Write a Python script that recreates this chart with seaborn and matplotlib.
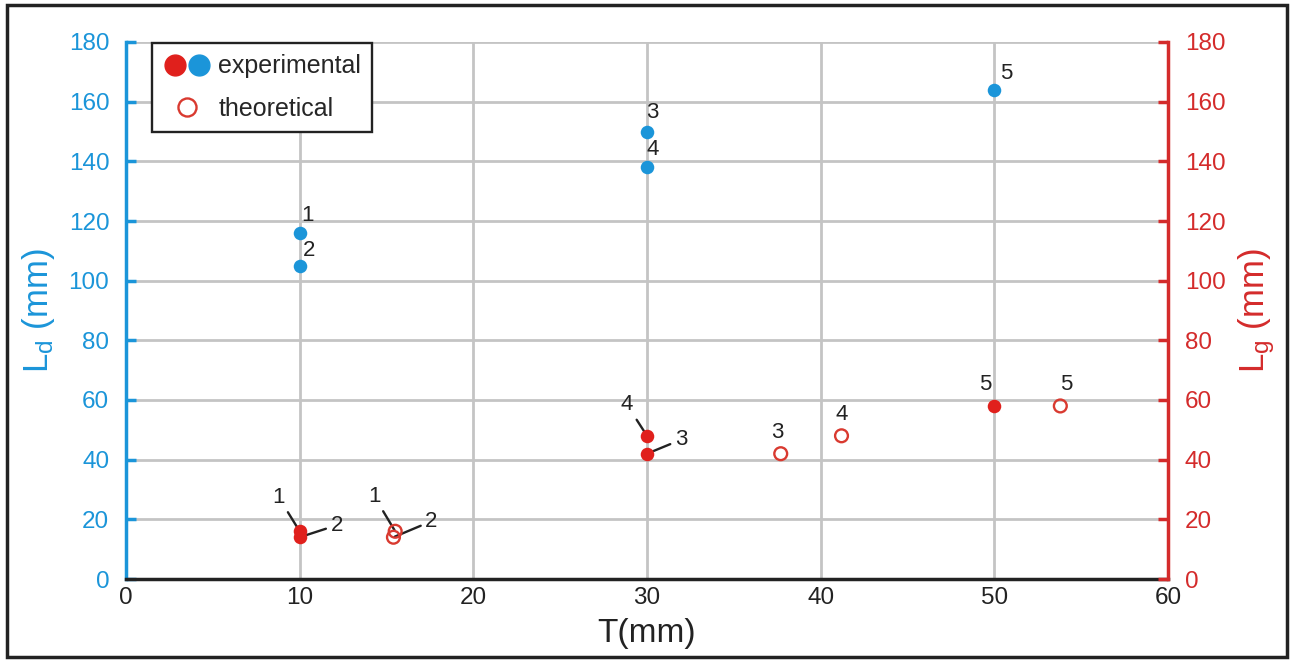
import matplotlib
matplotlib.use("Agg")
import matplotlib.pyplot as plt
import seaborn as sns
from matplotlib.lines import Line2D
from matplotlib.legend_handler import HandlerTuple
from matplotlib.patches import Rectangle

# ---- data ----
exp_T = [10, 10, 30, 30, 50]
exp_Ld = [116, 105, 150, 138, 164]
exp_Lg = [16, 14, 42, 48, 58]
theo_T = [15.5, 15.4, 37.7, 41.2, 53.8]
theo_Lg = [16, 14, 42, 48, 58]
point_labels = ["1", "2", "3", "4", "5"]

x_ticks = [0, 10, 20, 30, 40, 50, 60]
y_ticks = [0, 20, 40, 60, 80, 100, 120, 140, 160, 180]

BLUE = "#1b95d9"
RED = "#e0201c"
RED_AX = "#d42b2b"
RED_OPEN = "#d93a30"
GRID = "#c4c4c4"

sns.set_style("white")
plt.rcParams["font.family"] = ["Liberation Sans", "DejaVu Sans"]
plt.rcParams["mathtext.fontset"] = "custom"
plt.rcParams["mathtext.rm"] = "Liberation Sans"
plt.rcParams["mathtext.it"] = "Liberation Sans"

W, H = 1292, 660
fig = plt.figure(figsize=(W / 100, H / 100), dpi=100)
ax = fig.add_axes([126 / W, 1 - 579 / H, (1168 - 126) / W, (579 - 42) / H])
ax2 = ax.twinx()

ax.set_xlim(0, 60)
ax.set_ylim(0, 180)
ax2.set_ylim(0, 180)
ax.set_xticks(x_ticks)
ax.set_yticks(y_ticks)
ax2.set_yticks(y_ticks)

ax.grid(True, color=GRID, linewidth=2)
ax.set_axisbelow(True)
ax2.grid(False)

# spines
for a in (ax, ax2):
    a.spines["top"].set_visible(False)
ax.spines["left"].set_color(BLUE)
ax.spines["left"].set_linewidth(2.5)
ax.spines["bottom"].set_color("#222222")
ax.spines["bottom"].set_linewidth(2.5)
ax.spines["right"].set_visible(False)
ax2.spines["left"].set_visible(False)
ax2.spines["bottom"].set_visible(False)
ax2.spines["right"].set_color(RED_AX)
ax2.spines["right"].set_linewidth(2.5)

ax.tick_params(axis="y", direction="in", length=7, width=2.5, colors=BLUE, labelsize=17.5, pad=12)
ax.tick_params(axis="x", direction="in", length=7, width=2.5, colors="#222222", labelsize=17.5, pad=6)
ax2.tick_params(axis="y", direction="in", length=7, width=2.5, colors=RED_AX, labelsize=17.5, pad=12)

ax.set_xlabel("T(mm)", fontsize=24, color="#222222", labelpad=6)
ax.set_ylabel(r"L$_\mathregular{d}$ (mm)", fontsize=25, color=BLUE, labelpad=8)
ax2.set_ylabel(r"L$_\mathregular{g}$ (mm)", fontsize=25, color=RED_AX, labelpad=8, rotation=90)

# points
sns.scatterplot(x=exp_T, y=exp_Ld, ax=ax, color=BLUE, s=95, linewidth=0, zorder=5)
sns.scatterplot(x=exp_T, y=exp_Lg, ax=ax2, color=RED, s=95, linewidth=0, zorder=5)
sns.scatterplot(x=theo_T, y=theo_Lg, ax=ax2, facecolors="none", edgecolors=RED_OPEN,
                s=85, linewidth=1.7, zorder=5)

# annotations
txt_kw = dict(textcoords="offset pixels", fontsize=16, color="#222222", ha="center", va="center")
line_kw = dict(arrowstyle="-", color="#222222", lw=1.7, shrinkA=1, shrinkB=1)

blue_off = [(8, 17), (9, 15), (5, 19), (6, 18), (12, 16)]
for x, y, lab, off in zip(exp_T, exp_Ld, point_labels, blue_off):
    ax.annotate(lab, (x, y), xytext=off, **txt_kw)

red_off = [(-21, 34), (37, 12), (34, 14), (-20, 31), (-9, 21)]
red_line = [True, True, True, True, False]
for x, y, lab, off, ln in zip(exp_T, exp_Lg, point_labels, red_off, red_line):
    ax2.annotate(lab, (x, y), xytext=off, arrowprops=line_kw if ln else None, **txt_kw)

theo_off = [(-21, 35), (38, 16), (-3, 21), (0, 21), (6, 21)]
theo_line = [True, True, False, False, False]
for x, y, lab, off, ln in zip(theo_T, theo_Lg, point_labels, theo_off, theo_line):
    ax2.annotate(lab, (x, y), xytext=off, arrowprops=line_kw if ln else None, **txt_kw)

# legend
h_red = Line2D([], [], marker="o", ls="", mfc=RED, mec=RED, ms=15)
h_blue = Line2D([], [], marker="o", ls="", mfc=BLUE, mec=BLUE, ms=15)
h_open = Line2D([], [], marker="o", ls="", mfc="none", mec=RED_OPEN, mew=1.7, ms=13)
leg = ax2.legend([(h_red, h_blue), h_open], ["experimental", "theoretical"],
                 handler_map={tuple: HandlerTuple(ndivide=None, pad=0.0)},
                 loc="upper left", bbox_to_anchor=(0.025, 0.998), borderaxespad=0,
                 fontsize=18, frameon=True, fancybox=False, edgecolor="#222222",
                 framealpha=1, handlelength=1.9, handletextpad=0.3, labelspacing=0.75,
                 borderpad=0.45)
leg.get_frame().set_linewidth(1.7)

# figure border
fig.add_artist(Rectangle((7 / W, 3 / H), (1287 - 7) / W, (655 - 3) / H,
                         transform=fig.transFigure, fill=False, ec="#222222", lw=2.5))

fig.savefig("out.png", dpi=100)
